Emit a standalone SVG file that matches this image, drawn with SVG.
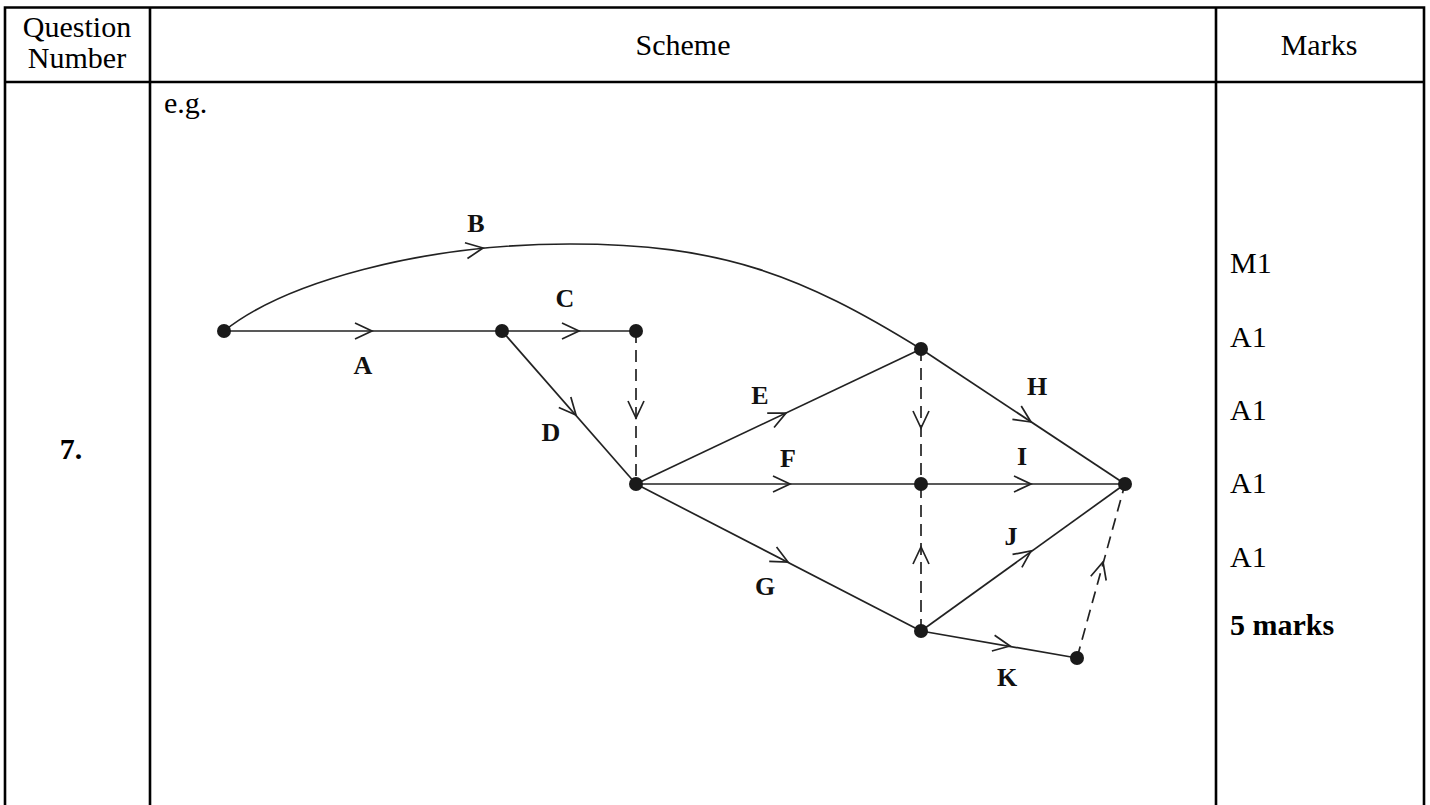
<svg xmlns="http://www.w3.org/2000/svg" xmlns:xlink="http://www.w3.org/1999/xlink" width="1430" height="805" viewBox="0 0 1430 805">
<style>
.tbl{stroke:#000;stroke-width:2.6;fill:none}
.txt{font-family:"Liberation Serif","Times New Roman",serif;font-size:30px;fill:#000}
.bold{font-weight:bold}
.lbl{font-family:"Liberation Serif","Times New Roman",serif;font-size:26px;font-weight:bold;fill:#111;text-anchor:middle}
.edge{stroke:#222;stroke-width:1.7;fill:none}
.dash{stroke:#222;stroke-width:1.7;fill:none;stroke-dasharray:12 7}
.node{fill:#1a1a1a}
</style>
<defs>
<path id="ah" d="M-17,-8 L0,0 L-17,8" fill="none" stroke="#222" stroke-width="1.7"/>
</defs>
<rect x="0" y="0" width="1430" height="805" fill="#fff"/>
<g id="table">
<path class="tbl" d="M5,805 V7.5 H1424 V805 M150,7.5 V805 M1216,7.5 V805 M5,82 H1424"/>
<text class="txt" x="77" y="37" text-anchor="middle">Question</text>
<text class="txt" x="77" y="68" text-anchor="middle">Number</text>
<text class="txt" x="683" y="55" text-anchor="middle">Scheme</text>
<text class="txt" x="1319" y="55" text-anchor="middle">Marks</text>
<text class="txt" x="164" y="113">e.g.</text>
<text class="txt bold" x="71" y="459" text-anchor="middle">7.</text>
<text class="txt" x="1230" y="273">M1</text>
<text class="txt" x="1230" y="347">A1</text>
<text class="txt" x="1230" y="420">A1</text>
<text class="txt" x="1230" y="493">A1</text>
<text class="txt" x="1230" y="567">A1</text>
<text class="txt bold" x="1230" y="635">5 marks</text>
</g>
<g id="connectors">
<path class="edge" d="M224,331 C284,283 420,244 570,244 C720,244 801,274.6 921,349"/>
<line class="edge" x1="224" y1="331" x2="502" y2="331"/>
<line class="edge" x1="502" y1="331" x2="636" y2="331"/>
<line class="edge" x1="502" y1="331" x2="636" y2="484"/>
<line class="edge" x1="636" y1="484" x2="921" y2="349"/>
<line class="edge" x1="636" y1="484" x2="921" y2="484"/>
<line class="edge" x1="636" y1="484" x2="921" y2="631"/>
<line class="edge" x1="921" y1="349" x2="1125" y2="484"/>
<line class="edge" x1="921" y1="484" x2="1125" y2="484"/>
<line class="edge" x1="921" y1="631" x2="1125" y2="484"/>
<line class="edge" x1="921" y1="631" x2="1077" y2="658"/>
<line class="dash" x1="636" y1="331" x2="636" y2="484"/>
<line class="dash" x1="921" y1="349" x2="921" y2="484"/>
<line class="dash" x1="921" y1="631" x2="921" y2="484"/>
<line class="dash" x1="1077" y1="658" x2="1125" y2="484"/>
<use xlink:href="#ah" transform="translate(372,331)"/>
<use xlink:href="#ah" transform="translate(483,248) rotate(-9)"/>
<use xlink:href="#ah" transform="translate(579,331)"/>
<use xlink:href="#ah" transform="translate(576,415) rotate(48.8)"/>
<use xlink:href="#ah" transform="translate(636,418) rotate(90)"/>
<use xlink:href="#ah" transform="translate(786,413) rotate(-25.35)"/>
<use xlink:href="#ah" transform="translate(790,484)"/>
<use xlink:href="#ah" transform="translate(788,562) rotate(27.3)"/>
<use xlink:href="#ah" transform="translate(921,428) rotate(90)"/>
<use xlink:href="#ah" transform="translate(1031,422) rotate(33.5)"/>
<use xlink:href="#ah" transform="translate(1031,484)"/>
<use xlink:href="#ah" transform="translate(1031,551) rotate(-35.8)"/>
<use xlink:href="#ah" transform="translate(921,547) rotate(-90)"/>
<use xlink:href="#ah" transform="translate(1010,646) rotate(9.8)"/>
<use xlink:href="#ah" transform="translate(1103,562) rotate(-74.6)"/>
</g>
<g id="labels">
<text class="lbl" x="476" y="232">B</text>
<text class="lbl" x="363" y="374">A</text>
<text class="lbl" x="565" y="307">C</text>
<text class="lbl" x="551" y="441">D</text>
<text class="lbl" x="760" y="404">E</text>
<text class="lbl" x="788" y="467">F</text>
<text class="lbl" x="765" y="595">G</text>
<text class="lbl" x="1037" y="395">H</text>
<text class="lbl" x="1022" y="465">I</text>
<text class="lbl" x="1011" y="545">J</text>
<text class="lbl" x="1007" y="686">K</text>
</g>
<g id="n1"><circle class="node" cx="224" cy="331" r="7"/></g>
<g id="n2"><circle class="node" cx="502" cy="331" r="7"/></g>
<g id="n3"><circle class="node" cx="636" cy="331" r="7"/></g>
<g id="n4"><circle class="node" cx="636" cy="484" r="7"/></g>
<g id="n5"><circle class="node" cx="921" cy="349" r="7"/></g>
<g id="n6"><circle class="node" cx="921" cy="484" r="7"/></g>
<g id="n7"><circle class="node" cx="1125" cy="484" r="7"/></g>
<g id="n8"><circle class="node" cx="921" cy="631" r="7"/></g>
<g id="n9"><circle class="node" cx="1077" cy="658" r="7"/></g>
</svg>
